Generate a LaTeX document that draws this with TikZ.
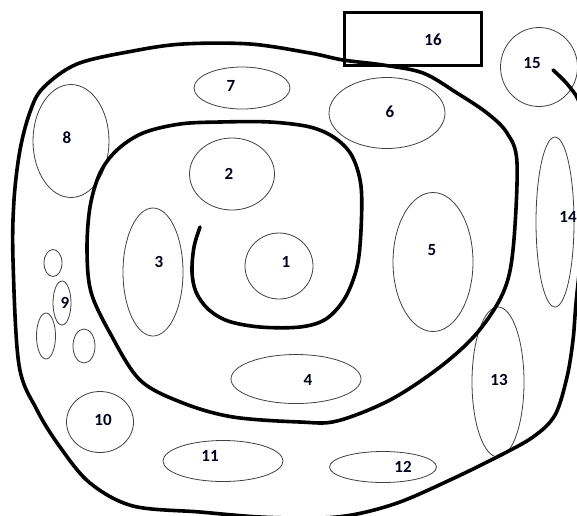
\documentclass[tikz,border=0pt]{standalone}
\usepackage{fontspec}
\setmainfont{Carlito}
\usetikzlibrary{shapes.geometric}

\begin{document}
\begin{tikzpicture}[x=1pt, y=-1pt,
     blob/.style = {ellipse, draw=black!75, line width=0.8pt, inner sep=0pt},
      num/.style = {font=\fontsize{17}{17}\selectfont\bfseries, text=black!90!blue, inner sep=0pt},
     wall/.style = {line width=3.6pt, line cap=round, line join=round}
                    ]
\clip (0,0) rectangle (577,515);
% regions
\node (r1)  [blob, minimum width=68,  minimum height=66]  at (279,266) {};
\node (r2)  [blob, minimum width=85,  minimum height=72]  at (232,174) {};
\node (r3)  [blob, minimum width=60,  minimum height=128] at (153,272) {};
\node (r4)  [blob, minimum width=130, minimum height=49]  at (296,379) {};
\node (r5)  [blob, minimum width=80,  minimum height=139] at (433,262) {};
\node (r6)  [blob, minimum width=116, minimum height=71]  at (387,113) {};
\node (r7)  [blob, minimum width=96,  minimum height=42]  at (242,88)  {};
\node (r8)  [blob, minimum width=76,  minimum height=113] at (71,141)  {};
\node (r9a) [blob, minimum width=18,  minimum height=27]  at (53,263)  {};
\node (r9)  [blob, minimum width=18,  minimum height=44]  at (62,303)  {};
\node (r9b) [blob, minimum width=19,  minimum height=46]  at (46,336)  {};
\node (r9c) [blob, minimum width=22,  minimum height=34]  at (84,346)  {};
\node (r10) [blob, minimum width=67,  minimum height=61]  at (100,422) {};
\node (r11) [blob, minimum width=120, minimum height=41]  at (223,461) {};
\node (r12) [blob, minimum width=107, minimum height=31]  at (383,467) {};
\node (r13) [blob, minimum width=52,  minimum height=150] at (498,382) {};
\node (r14) [blob, minimum width=38,  minimum height=170] at (555,222) {};
\node (r15) [blob, minimum width=77,  minimum height=79]  at (539,67)  {};
\node (r16) [draw, line width=3pt, inner sep=0pt, minimum width=137, minimum height=53] at (413,39) {};
% numbers
\node (n1)  [num] at (286,262) {1};
\node (n2)  [num] at (229,174) {2};
\node (n3)  [num] at (159,262) {3};
\node (n4)  [num] at (308,380) {4};
\node (n5)  [num] at (432,250) {5};
\node (n6)  [num] at (390,112) {6};
\node (n7)  [num] at (231,86)  {7};
\node (n8)  [num] at (67,138)  {8};
\node (n9)  [num] at (65,303)  {9};
\node (n10) [num] at (103,420) {10};
\node (n11) [num] at (210,456) {11};
\node (n12) [num] at (403,467) {12};
\node (n13) [num] at (499,380) {13};
\node (n14) [num] at (568,217) {14};
\node (n15) [num] at (532,63)  {15};
\node (n16) [num] at (433,40)  {16};
% the spiral
\draw[wall] plot[smooth, tension=0.55] coordinates {
  (200,227) (194,247) (192,272) (196,292) (208,309) (228,321) (260,327)
  (300,327) (326,319) (345,298) (357,267) (361,230) (361,186) (352,156)
  (335,138) (310,127) (270,122) (220,122) (180,124) (143,133) (117,150)
  (100,173) (90,207) (87,250) (91,292) (110,333) (140,380) (183,403)
  (233,417) (300,422) (337,421) (390,400) (440,367) (477,333) (503,293)
  (513,250) (517,163) (507,133) (487,113) (457,93) (423,73) (383,65)
  (343,60) (310,53) (250,44) (183,44) (133,51) (77,64) (43,88) (30,112)
  (20,150) (14,200) (13,260) (19,365) (37,410) (60,447) (90,483)
  (133,506) (200,512) (260,517) (320,518) (357,514) (400,502) (450,480)
  (497,457) (533,437) (555,415) (567,377) (573,340) (576,303) (583,230)
  (585,150) (580,105) (568,85) (553,70)};
\end{tikzpicture}
\end{document}
